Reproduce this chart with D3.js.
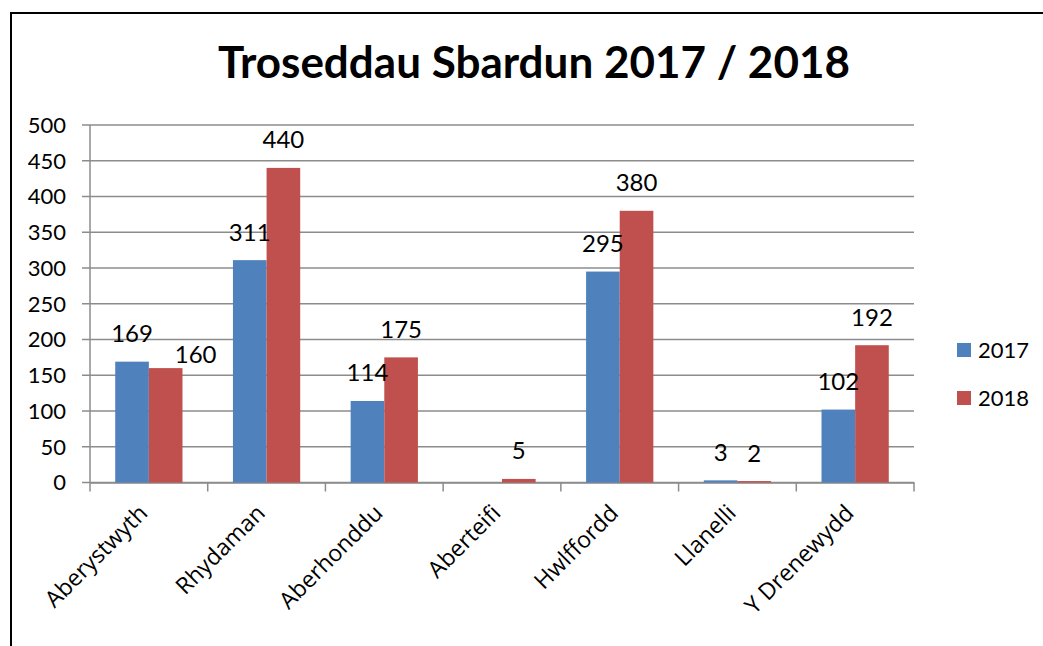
<!DOCTYPE html>
<html>
<head>
<meta charset="utf-8">
<script src="https://cdn.jsdelivr.net/npm/d3@7"></script>
<style>
  body { margin: 0; background: #fff; }
  text { font-family: Lato, 'Open Sans', sans-serif; fill: #000; }
</style>
</head>
<body>
<div class="chart"></div>
<script>
let title = 'Troseddau Sbardun 2017 / 2018';
let categories = ['Aberystwyth', 'Rhydaman', 'Aberhonddu', 'Aberteifi', 'Hwlffordd', 'Llanelli', 'Y Drenewydd'];
let seriesNames = ['2017', '2018'];
let values2017 = [169, 311, 114, 0, 295, 3, 102];
let values2018 = [160, 440, 175, 5, 380, 2, 192];
let yTicks = [0, 50, 100, 150, 200, 250, 300, 350, 400, 450, 500];
let colors = ['#4F81BD', '#C0504D'];

let w = 1043;
let h = 646;
let plot = { left: 90, right: 914, top: 125, bottom: 482.5 };

let svg = d3.select('.chart').append('svg')
  .attr('width', w)
  .attr('height', h);

// frame
svg.append('rect')
  .attr('x', 11)
  .attr('y', 13)
  .attr('width', w + 20)
  .attr('height', h + 20)
  .attr('fill', '#fff')
  .attr('stroke', '#000')
  .attr('stroke-width', 2);

svg.append('text')
  .attr('x', 534)
  .attr('y', 78)
  .attr('text-anchor', 'middle')
  .style('font-size', '44px')
  .style('font-weight', 'bold')
  .text(title);

let x = d3.scaleBand().domain(categories).range([plot.left, plot.right]);
let y = d3.scaleLinear().domain([0, 500]).range([plot.bottom, plot.top]);
// gap width 150%: each bar is band / 3.5
let barW = x.bandwidth() / 3.5;

// gridlines
svg.append('g')
  .selectAll('line')
  .data(yTicks)
  .enter().append('line')
  .attr('x1', plot.left - 8)
  .attr('x2', plot.right)
  .attr('y1', d => y(d))
  .attr('y2', d => y(d))
  .attr('stroke', '#8c8c8c')
  .attr('stroke-width', 1.5);

// y tick labels
svg.append('g')
  .selectAll('text')
  .data(yTicks)
  .enter().append('text')
  .attr('x', 66)
  .attr('y', d => y(d))
  .attr('dy', '0.36em')
  .attr('text-anchor', 'end')
  .style('font-size', '22px')
  .text(d => d);

// axes
svg.append('line')
  .attr('x1', plot.left).attr('x2', plot.left)
  .attr('y1', plot.top).attr('y2', plot.bottom)
  .attr('stroke', '#8c8c8c').attr('stroke-width', 1.5);

let xAxis = d3.axisBottom(x).tickSize(0).tickFormat('');
let gx = svg.append('g')
  .attr('transform', `translate(0, ${plot.bottom})`)
  .call(xAxis);
gx.select('.domain').attr('stroke', '#8c8c8c').attr('stroke-width', 1.5);

let boundaries = categories.map(c => x(c)).concat([plot.right]);
gx.selectAll('.sep')
  .data(boundaries)
  .enter().append('line')
  .attr('class', 'sep')
  .attr('x1', d => d).attr('x2', d => d)
  .attr('y1', 0).attr('y2', 9)
  .attr('stroke', '#8c8c8c').attr('stroke-width', 1.5);

// bars
let series = [values2017, values2018];
let barData = [];
series.forEach((vals, s) => {
  vals.forEach((v, i) => {
    let cx = x(categories[i]) + x.bandwidth() / 2;
    barData.push({ s: s, i: i, v: v, x: cx - barW + s * barW });
  });
});

svg.append('g')
  .selectAll('rect')
  .data(barData)
  .enter().append('rect')
  .attr('x', d => d.x)
  .attr('y', d => y(d.v))
  .attr('width', barW)
  .attr('height', d => plot.bottom - y(d.v))
  .attr('fill', d => colors[d.s]);

// data labels (2018 label pushed right when it would hit the 2017 one)
let labels = svg.append('g')
  .selectAll('text')
  .data(barData.filter(d => d.v > 0))
  .enter().append('text')
  .attr('x', d => d.x + barW / 2)
  .attr('y', d => y(d.v) - 19.5)
  .attr('text-anchor', 'middle')
  .style('font-size', '24px')
  .text(d => d.v);

labels.each(function (d) {
  d.w = this.getComputedTextLength();
});
labels.filter(d => d.s === 1).each(function (d) {
  let other = barData.find(b => b.s === 0 && b.i === d.i);
  if (!other || other.w === undefined) return;
  let dx = Math.abs((d.x + barW / 2) - (other.x + barW / 2));
  let dy = Math.abs(y(d.v) - y(other.v));
  if (dx < (d.w + other.w) / 2 + 2 && dy < 22) {
    d3.select(this)
      .attr('x', d.x + barW / 2 + 30)
      .attr('y', y(d.v) - 5);
  }
});

// category labels
svg.append('g')
  .selectAll('text')
  .data(categories)
  .enter().append('text')
  .attr('transform', d => `translate(${x(d) + x.bandwidth() / 2}, ${plot.bottom + 32}) rotate(-45)`)
  .attr('text-anchor', 'end')
  .style('font-family', "'Open Sans', sans-serif")
  .style('font-size', '23px')
  .text(d => d);

// legend
let legend = svg.append('g')
  .selectAll('g')
  .data(seriesNames)
  .enter().append('g')
  .attr('transform', (d, i) => `translate(957, ${343 + i * 48})`);

legend.append('rect')
  .attr('width', 14)
  .attr('height', 14)
  .attr('fill', (d, i) => colors[i]);

legend.append('text')
  .attr('x', 21)
  .attr('y', 7)
  .attr('dy', '0.36em')
  .style('font-size', '22px')
  .text(d => d);
</script>
</body>
</html>
